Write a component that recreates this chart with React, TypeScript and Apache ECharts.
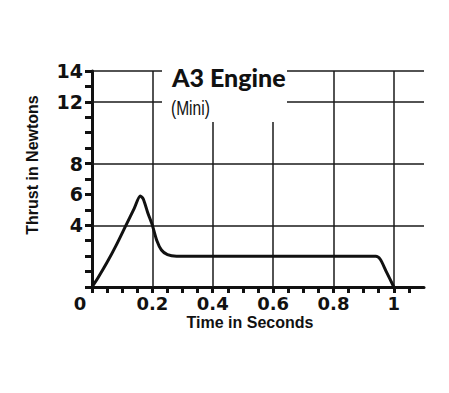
import React, { useEffect, useRef } from "react";
import * as echarts from "echarts";

// Thrust curve of the A3 (Mini) engine: [time s, thrust N]
const timeValues = [0, 0.02, 0.05, 0.08, 0.11, 0.14, 0.16, 0.17, 0.185, 0.2, 0.215, 0.23, 0.25, 0.28, 0.94, 0.955, 0.975, 1.0];
const thrustValues = [0, 0.6, 1.6, 2.7, 3.9, 5.1, 5.9, 5.7, 4.8, 4.0, 3.0, 2.4, 2.1, 2.0, 2.0, 1.8, 1.0, 0];

const xLabelValues = [0, 0.2, 0.4, 0.6, 0.8, 1];
const yLabelValues = [4, 6, 8, 12, 14];
const hGridValues = [4, 8, 12, 14];
const vGridValues = [0.2, 0.4, 0.6, 0.8, 1];

const titleText = "A3 Engine";
const subtitleText = "(Mini)";
const xName = "Time in Seconds";
const yName = "Thrust in Newtons";

const X_MAX = 1.1;
const Y_MAX = 14;
const INK = "#111";

export default function App() {
  const ref = useRef<HTMLDivElement>(null);
  useEffect(() => {
    if (!ref.current) return;
    const chart = echarts.init(ref.current, null, { renderer: "svg" });
    const data = timeValues.map((t, i) => [t, thrustValues[i]]);
    const gridLines: any[] = [];
    hGridValues.forEach((v) => gridLines.push([{ coord: [0, v] }, { coord: [X_MAX, v] }]));
    vGridValues.forEach((v) => gridLines.push([{ coord: [v, 0] }, { coord: [v, Y_MAX] }]));
    const tickFont = "DejaVu Sans";
    chart.setOption({
      animation: false,
      backgroundColor: "#fff",
      grid: { left: 92, right: 25, top: 71, bottom: 106, containLabel: false },
      xAxis: {
        type: "value",
        min: 0,
        max: X_MAX,
        interval: 0.05,
        splitLine: { show: false },
        axisLine: { show: true, lineStyle: { color: INK, width: 3 } },
        axisTick: { show: true, length: 6, lineStyle: { color: INK, width: 3 } },
        axisLabel: {
          margin: 9,
          color: INK,
          fontFamily: tickFont,
          fontWeight: "bold",
          fontSize: 18,
          lineHeight: 14,
          showMaxLabel: false,
          formatter: (v: number) => {
            const r = Math.round(v * 100) / 100;
            if (!xLabelValues.some((x) => Math.abs(x - r) < 1e-6)) return "";
            if (r === 0) return "{z|0}";
            return String(r);
          },
          rich: {
            z: { padding: [0, 24, 0, 0], fontFamily: tickFont, fontWeight: "bold", fontSize: 18, lineHeight: 14, color: INK },
          },
        },
      },
      yAxis: {
        type: "value",
        min: 0,
        max: Y_MAX,
        interval: 1,
        splitLine: { show: false },
        axisLine: { show: true, lineStyle: { color: INK, width: 3 } },
        axisTick: { show: true, length: 7, lineStyle: { color: INK, width: 3 } },
        axisLabel: {
          margin: 9,
          color: INK,
          fontFamily: tickFont,
          fontWeight: "bold",
          fontSize: 19,
          formatter: (v: number) => {
            const r = Math.round(v);
            return yLabelValues.includes(r) ? String(r) : "";
          },
        },
      },
      series: [
        {
          type: "line",
          data,
          smooth: 0.25,
          showSymbol: false,
          lineStyle: { color: INK, width: 3 },
          z: 5,
          markLine: {
            silent: true,
            symbol: "none",
            label: { show: false },
            lineStyle: { color: "#1a1a1a", width: 1.5, type: "solid" },
            data: gridLines,
            z: 2,
          },
        },
      ],
      graphic: [
        {
          type: "rect",
          shape: { x: 162, y: 60, width: 125, height: 62 },
          style: { fill: "#fff" },
          z: 20,
          silent: true,
        },
        {
          type: "text",
          x: 172,
          y: 89,
          z: 21,
          style: {
            text: titleText,
            font: "900 25px Lato",
            fill: INK,
            textAlign: "left",
            textVerticalAlign: "bottom",
          },
        },
        {
          type: "text",
          x: 171,
          y: 108,
          scaleX: 0.74,
          z: 21,
          style: {
            text: subtitleText,
            font: "21px 'Liberation Sans'",
            fill: INK,
            textAlign: "left",
            textVerticalAlign: "middle",
          },
        },
        {
          type: "text",
          x: 250,
          y: 322,
          z: 21,
          style: {
            text: xName,
            font: "bold 16px 'Liberation Sans'",
            lineHeight: 13,
            fill: INK,
            textAlign: "center",
            textVerticalAlign: "middle",
          },
        },
        {
          type: "text",
          x: 32,
          y: 165,
          rotation: Math.PI / 2,
          z: 21,
          style: {
            text: yName,
            font: "bold 16px 'Liberation Sans'",
            fill: INK,
            textAlign: "center",
            textVerticalAlign: "middle",
          },
        },
      ],
    });
    return () => chart.dispose();
  }, []);
  return (
    <div
      ref={ref}
      style={{ position: "absolute", left: 0, top: 0, width: 449, height: 393 }}
    />
  );
}
